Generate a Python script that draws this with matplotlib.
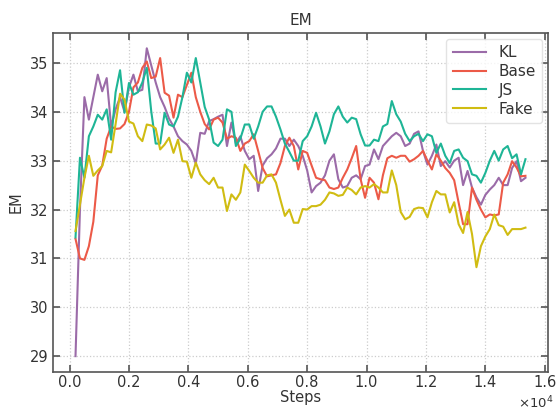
import numpy as np
import matplotlib
matplotlib.use("Agg")
import matplotlib.pyplot as plt
from matplotlib.ticker import FuncFormatter

# training steps (x axis), one value every 150 steps
steps = np.arange(200, 15351, 150)

kl = [29.0, 32.0, 34.3, 33.84, 34.3, 34.76, 34.42, 34.69, 33.7, 34.05,
      34.3, 34.0, 34.5, 34.76, 34.42, 34.45, 35.3, 34.95, 34.6, 34.3,
      34.1, 33.86, 33.7, 33.5, 33.4, 33.33, 33.2, 32.94, 33.57, 33.55,
      33.81, 33.85, 33.9, 33.94, 33.3, 33.78, 33.35, 33.5, 33.2, 33.03,
      33.1, 32.38, 32.9, 33.05, 33.13, 33.25, 33.45, 33.45, 33.3, 33.43,
      33.3, 33.1, 32.8, 32.35, 32.48, 32.55, 32.7, 33.0, 33.13, 32.62,
      32.45, 32.48, 32.65, 32.7, 32.62, 32.89, 32.92, 33.23, 33.03, 33.3,
      33.4, 33.5, 33.57, 33.5, 33.3, 33.35, 33.55, 33.6, 33.2, 32.92,
      33.1, 33.33, 32.89, 32.99, 32.86, 33.0, 33.06, 32.5, 32.79, 32.45,
      32.25, 32.1, 32.3, 32.41, 32.5, 32.65, 32.5, 32.5, 32.85, 32.99,
      32.58, 32.65]

base = [31.4, 31.0, 30.97, 31.25, 31.75, 32.7, 32.9, 33.45, 33.7, 33.65,
        33.66, 33.75, 34.0, 34.5, 34.6, 34.9, 35.03, 34.69, 34.72, 35.1,
        34.39, 34.33, 33.88, 34.35, 34.3, 34.55, 34.8, 34.3, 34.0, 33.75,
        33.64, 33.84, 33.88, 33.78, 33.45, 33.5, 33.47, 33.2, 33.35, 33.4,
        33.54, 33.2, 32.85, 32.68, 32.7, 32.72, 32.95, 33.3, 33.47, 33.3,
        32.82, 33.2, 33.16, 32.9, 32.65, 32.62, 32.6, 32.45, 32.42, 32.45,
        32.65, 32.82, 33.05, 33.3, 32.62, 32.24, 32.65, 32.55, 32.21, 32.7,
        33.05, 33.1, 33.06, 33.1, 33.1, 32.98, 33.03, 33.1, 33.2, 33.0,
        32.82, 33.13, 33.0, 32.85, 32.75, 32.6, 32.14, 31.7, 31.7, 32.45,
        32.2, 32.0, 31.84, 31.9, 31.88, 31.9, 32.55, 32.72, 32.99, 32.86,
        32.68, 32.69]

js = [31.43, 33.06, 32.65, 33.5, 33.7, 33.94, 33.84, 34.05, 33.43, 34.4,
      34.85, 33.98, 34.59, 34.35, 34.4, 34.6, 34.9, 34.01, 33.35, 33.35,
      33.98, 33.74, 33.7, 33.9, 34.3, 34.8, 34.6, 35.1, 34.6, 34.1,
      33.84, 33.37, 33.3, 33.43, 34.05, 34.0, 33.3, 33.45, 33.74, 33.74,
      33.45, 33.7, 34.0, 34.11, 34.11, 33.9, 33.64, 33.35, 33.18, 33.0,
      33.0, 33.4, 33.5, 33.7, 33.98, 33.7, 33.35, 33.6, 33.95, 34.11,
      33.9, 33.78, 33.88, 33.85, 33.54, 33.31, 33.31, 33.43, 33.4, 33.7,
      33.75, 34.22, 33.95, 33.8, 33.55, 33.4, 33.5, 33.55, 33.4, 33.54,
      33.5, 33.16, 33.35, 33.1, 32.95, 33.2, 33.23, 33.06, 32.99, 32.72,
      32.69, 32.55, 32.75, 33.0, 33.2, 33.0, 33.23, 33.3, 33.05, 33.13,
      32.72, 33.03]

fake = [31.56, 32.1, 32.65, 33.1, 32.69, 32.8, 32.89, 33.2, 33.17, 33.75,
        34.37, 34.25, 33.8, 33.76, 33.5, 33.4, 33.74, 33.72, 33.66, 33.23,
        33.33, 33.47, 33.16, 33.43, 32.99, 32.98, 32.65, 32.96, 32.72, 32.6,
        32.52, 32.65, 32.45, 32.45, 31.97, 32.31, 32.2, 32.35, 32.92, 32.79,
        32.65, 32.55, 32.55, 32.7, 32.72, 32.55, 32.2, 31.87, 32.0, 31.73,
        31.73, 32.01, 32.0, 32.07, 32.07, 32.1, 32.2, 32.35, 32.33, 32.28,
        32.3, 32.45, 32.4, 32.31, 32.45, 32.48, 32.45, 32.52, 32.45, 32.35,
        32.35, 32.8, 32.5, 31.95, 31.8, 31.85, 32.01, 32.04, 32.03, 31.84,
        32.15, 32.38, 32.31, 32.31, 31.94, 32.15, 31.7, 31.52, 31.95, 31.5,
        30.82, 31.25, 31.45, 31.6, 31.9, 31.68, 31.65, 31.48, 31.6, 31.6,
        31.6, 31.63]

names = ["KL", "Base", "JS", "Fake"]
colors = ["#9b6ba8", "#ec5a48", "#1eb596", "#d0bc12"]

plt.rcParams["font.family"] = "DejaVu Sans"
plt.rcParams["text.color"] = "#333333"
plt.rcParams["axes.labelcolor"] = "#333333"

fig = plt.figure(figsize=(5.58, 4.11), dpi=100)
ax = fig.add_axes([0.095, 0.096, 0.887, 0.824])

for vals, name, c in zip([kl, base, js, fake], names, colors):
    ax.plot(steps, vals, color=c, lw=1.5, label=name)

ax.grid(True, color="#cccccc", linestyle=":", linewidth=0.9)
ax.set_yticks([29, 30, 31, 32, 33, 34, 35])
ax.set_xticks(np.arange(0, 16001, 2000))
ax.xaxis.set_major_formatter(FuncFormatter(lambda v, p: "%.1f" % (v / 1e4)))
ax.tick_params(direction="in", top=True, right=True, length=5, width=1.2,
               labelsize=10.5, colors="#555555", labelcolor="#333333")
ax.tick_params(axis="x", pad=2.5)
for s in ax.spines.values():
    s.set_color("#555555")
    s.set_linewidth(1.2)

# offset label for the x axis, placed under the last tick label
fig.text(0.992, 0.0, r"$\times10^{4}$", ha="right", va="bottom",
         fontsize=9.5, color="#333333")

ax.set_title("EM", fontsize=11)
ax.set_xlabel("Steps", fontsize=10.5, labelpad=0)
ax.set_ylabel("EM", fontsize=10.5)

ax.legend(loc="upper right", fontsize=11, handlelength=2.2, framealpha=0.8,
          edgecolor="#dddddd", borderaxespad=0.4, labelspacing=0.25)

fig.savefig("out.png", dpi=100)
